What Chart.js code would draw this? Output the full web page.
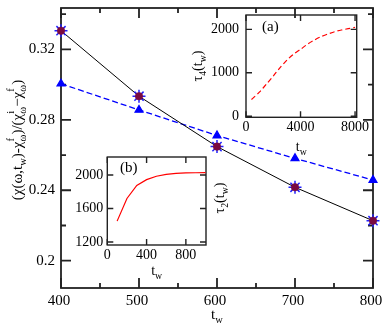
<!DOCTYPE html>
<html>
<head>
<meta charset="utf-8">
<script src="https://cdn.jsdelivr.net/npm/chart.js@4"></script>
<style>
  body { margin: 0; background: #fff; }
  #wrap { position: relative; width: 382px; height: 326px; }
  canvas { position: absolute; left: 0; top: 0; }
</style>
</head>
<body>
<div id="wrap">
  <canvas id="mainChart" width="382" height="326"></canvas>
  <canvas id="insetA" width="382" height="326"></canvas>
  <canvas id="insetB" width="382" height="326"></canvas>
</div>
<script>
// main panel
var tw = [400, 500, 600, 700, 800];
var chiStar = [0.3306, 0.2934, 0.2648, 0.2417, 0.2227];
var chiTri = [0.3005, 0.2856, 0.2711, 0.2581, 0.2458];
var mainXTicks = [400, 500, 600, 700, 800];
var mainXMinor = [450, 550, 650, 750];
var mainYTicks = [0.2, 0.24, 0.28, 0.32];
var mainYLabels = ['0.2', '0.24', '0.28', '0.32'];
var mainYMinor = [0.22, 0.26, 0.30, 0.34];

// inset (a)
var twA = [400, 1000, 1500, 2000, 2500, 3000, 3500, 4000, 4500, 5000, 5500, 6000, 6500, 7000, 7500, 8000];
var tau4 = [385, 560, 740, 925, 1120, 1290, 1430, 1540, 1655, 1750, 1830, 1890, 1945, 1985, 2015, 2045];
var aXTicks = [0, 4000, 8000];
var aYTicks = [0, 1000, 2000];

// inset (b)
var twB = [100, 200, 300, 400, 500, 600, 700, 800, 900, 1000];
var tau2 = [1450, 1720, 1875, 1945, 1985, 2008, 2020, 2025, 2027, 2028];
var bXTicks = [0, 400, 800];
var bYTicks = [1200, 1600, 2000];

var FONT = '"Liberation Serif", "DejaVu Serif", serif';

function pairs(xs, ys) {
    return xs.map(function (x, i) { return { x: x, y: ys[i] }; });
}

// text with sub/superscripts, centred on (cx, cy)
function drawRich(ctx, parts, cx, cy, size, rotate) {
    var small = size * 0.7;
    ctx.save();
    ctx.translate(cx, cy);
    if (rotate) ctx.rotate(-Math.PI / 2);
    var total = 0;
    parts.forEach(function (p) {
        ctx.font = size + 'px ' + FONT;
        p.w = ctx.measureText(p.t).width;
        ctx.font = small + 'px ' + FONT;
        p.s = Math.max(p.sub ? ctx.measureText(p.sub).width : 0, p.sup ? ctx.measureText(p.sup).width : 0);
        total += p.w + p.s;
    });
    var x = -total / 2;
    var base = size * 0.33;
    ctx.fillStyle = '#000';
    ctx.textAlign = 'left';
    ctx.textBaseline = 'alphabetic';
    parts.forEach(function (p) {
        ctx.font = size + 'px ' + FONT;
        ctx.fillText(p.t, x, base);
        x += p.w;
        ctx.font = small + 'px ' + FONT;
        if (p.sub) ctx.fillText(p.sub, x, base + size * 0.3);
        if (p.sup) ctx.fillText(p.sup, x, base - size * 0.5);
        x += p.s;
    });
    ctx.restore();
}

// frame with inward ticks on all four sides
var axisFrame = {
    id: 'axisFrame',
    beforeDatasetsDraw: function (chart, args, o) {
        var ctx = chart.ctx, a = chart.chartArea;
        var xs = chart.scales.x, ys = chart.scales.y;
        ctx.save();
        ctx.strokeStyle = '#222';
        ctx.lineWidth = o.lineWidth;
        ctx.beginPath();
        function xTick(v, len) {
            var p = xs.getPixelForValue(v);
            ctx.moveTo(p, a.bottom); ctx.lineTo(p, a.bottom - len);
            ctx.moveTo(p, a.top); ctx.lineTo(p, a.top + len);
        }
        function yTick(v, len) {
            var p = ys.getPixelForValue(v);
            ctx.moveTo(a.left, p); ctx.lineTo(a.left + len, p);
            ctx.moveTo(a.right, p); ctx.lineTo(a.right - len, p);
        }
        o.xMajor.forEach(function (v) { xTick(v, o.major); });
        o.yMajor.forEach(function (v) { yTick(v, o.major); });
        (o.xMinor || []).forEach(function (v) { xTick(v, o.minor); });
        (o.yMinor || []).forEach(function (v) { yTick(v, o.minor); });
        ctx.stroke();
        ctx.strokeRect(a.left, a.top, a.right - a.left, a.bottom - a.top);
        ctx.restore();
    },
    afterDraw: function (chart, args, o) {
        var ctx = chart.ctx, a = chart.chartArea;
        (o.texts || []).forEach(function (t) {
            var cx = t.x === 'mid' ? (a.left + a.right) / 2 : t.x;
            drawRich(ctx, t.parts, cx, t.y, t.size, t.rotate);
        });
        if (o.tag) {
            ctx.save();
            ctx.font = o.tag.size + 'px ' + FONT;
            ctx.fillStyle = '#000';
            ctx.textBaseline = 'middle';
            ctx.fillText(o.tag.text, o.tag.x, o.tag.y);
            ctx.restore();
        }
    }
};

function makeScales(box, xr, yr, xTicks, yTicks, yLabels, fs, pads, xShift) {
    return {
        x: {
            type: 'linear', min: xr[0], max: xr[1],
            grid: { display: false, drawTicks: false }, border: { display: false },
            ticks: {
                color: '#000', font: { family: FONT, size: fs }, padding: pads[0], autoSkip: false, maxRotation: 0,
                labelOffset: xShift || 0,
                callback: function (v) { return String(v); }
            },
            afterBuildTicks: function (s) { s.ticks = xTicks.map(function (v) { return { value: v }; }); },
            afterFit: function (s) { s.height = box.xh; s.paddingLeft = 0; s.paddingRight = 0; }
        },
        y: {
            type: 'linear', min: yr[0], max: yr[1],
            grid: { display: false, drawTicks: false }, border: { display: false },
            ticks: {
                color: '#000', font: { family: FONT, size: fs }, padding: pads[1], autoSkip: false,
                callback: function (v, i) { return yLabels ? yLabels[i] : String(v); }
            },
            afterBuildTicks: function (s) { s.ticks = yTicks.map(function (v) { return { value: v }; }); },
            afterFit: function (s) { s.width = box.yw; s.paddingTop = 0; s.paddingBottom = 0; }
        }
    };
}

function layoutFor(box) {
    return {
        padding: {
            left: box.l - box.yw, top: box.t,
            right: 382 - box.r, bottom: 326 - box.b - box.xh
        }
    };
}

var base = { animation: false, responsive: false, devicePixelRatio: 1, events: [] };

// main chart
var mainBox = { l: 61, t: 3, r: 373, b: 288, yw: 61, xh: 38 };
new Chart(document.getElementById('mainChart'), {
    type: 'line',
    data: {
        datasets: [
            {
                data: pairs(tw, chiTri), borderColor: '#0000ff', borderWidth: 1.3, borderDash: [6, 3],
                pointStyle: 'triangle', pointRadius: 4.5, pointBackgroundColor: '#0000ff', pointBorderColor: '#0000ff',
                tension: 0, clip: false, order: 3
            },
            {
                data: pairs(tw, chiStar), borderColor: '#000', borderWidth: 1,
                pointStyle: 'star', pointRadius: 6.5, pointBorderColor: '#2020ff', pointBorderWidth: 1.5,
                tension: 0, clip: false, order: 2
            },
            {
                data: pairs(tw, chiStar), showLine: false,
                pointStyle: 'circle', pointRadius: 3.8, pointBackgroundColor: '#7a0a40', pointBorderColor: '#7a0a40',
                pointBorderWidth: 0.5, clip: false, order: 1
            }
        ]
    },
    options: Object.assign({}, base, {
        layout: layoutFor(mainBox),
        scales: makeScales(mainBox, [400, 800], [0.1845, 0.3435], mainXTicks, mainYTicks, mainYLabels, 15, [4, 6], -2),
        plugins: {
            legend: { display: false }, tooltip: { enabled: false },
            axisFrame: {
                lineWidth: 1.8, major: 10, minor: 5,
                xMajor: mainXTicks, yMajor: mainYTicks, xMinor: mainXMinor, yMinor: mainYMinor,
                texts: [
                    { parts: [{ t: 't', sub: 'w' }], x: 'mid', y: 314, size: 15 },
                    {
                        parts: [
                            { t: '(\u03c7(\u03c9,t', sub: 'w' },
                            { t: ')-\u03c7', sub: '\u03c9', sup: 'f' },
                            { t: ')/(\u03c7', sub: '\u03c9', sup: 'i' },
                            { t: '\u2212\u03c7', sub: '\u03c9', sup: 'f' },
                            { t: ')' }
                        ], x: 17, y: 140, size: 15, rotate: true
                    }
                ]
            }
        }
    }),
    plugins: [axisFrame]
});

// inset (a)
var aBox = { l: 246, t: 15, r: 356.7, b: 117.3, yw: 40, xh: 30 };
new Chart(document.getElementById('insetA'), {
    type: 'line',
    data: {
        datasets: [{
            data: pairs(twA, tau4), borderColor: '#ff0000', borderWidth: 1.2, borderDash: [5, 3],
            pointRadius: 0, tension: 0.3
        }]
    },
    options: Object.assign({}, base, {
        layout: layoutFor(aBox),
        scales: makeScales(aBox, [0, 8120], [-25, 2330], aXTicks, aYTicks, null, 14, [2, 7]),
        plugins: {
            legend: { display: false }, tooltip: { enabled: false },
            axisFrame: {
                lineWidth: 1.4, major: 6, minor: 3, xMajor: aXTicks, yMajor: aYTicks,
                texts: [
                    { parts: [{ t: 't', sub: 'w' }], x: 'mid', y: 146, size: 14 },
                    { parts: [{ t: '\u03c4', sub: '4' }, { t: '(t', sub: 'w' }, { t: ')' }], x: 197, y: 66, size: 14, rotate: true }
                ],
                tag: { text: '(a)', x: 262, y: 27, size: 15 }
            }
        }
    }),
    plugins: [axisFrame]
});

// inset (b)
var bBox = { l: 107.3, t: 157, r: 206, b: 245, yw: 35, xh: 25 };
new Chart(document.getElementById('insetB'), {
    type: 'line',
    data: {
        datasets: [{
            data: pairs(twB, tau2), borderColor: '#ff0000', borderWidth: 1.2,
            pointRadius: 0, tension: 0
        }]
    },
    options: Object.assign({}, base, {
        layout: layoutFor(bBox),
        scales: makeScales(bBox, [0, 1005], [1165, 2215], bXTicks, bYTicks, null, 14, [2, 4]),
        plugins: {
            legend: { display: false }, tooltip: { enabled: false },
            axisFrame: {
                lineWidth: 1.4, major: 6, minor: 3, xMajor: bXTicks, yMajor: bYTicks,
                texts: [
                    { parts: [{ t: 't', sub: 'w' }], x: 'mid', y: 270, size: 14 },
                    { parts: [{ t: '\u03c4', sub: '2' }, { t: '(t', sub: 'w' }, { t: ')' }], x: 219, y: 198, size: 14, rotate: true }
                ],
                tag: { text: '(b)', x: 120, y: 168, size: 15 }
            }
        }
    }),
    plugins: [axisFrame]
});
</script>
</body>
</html>
